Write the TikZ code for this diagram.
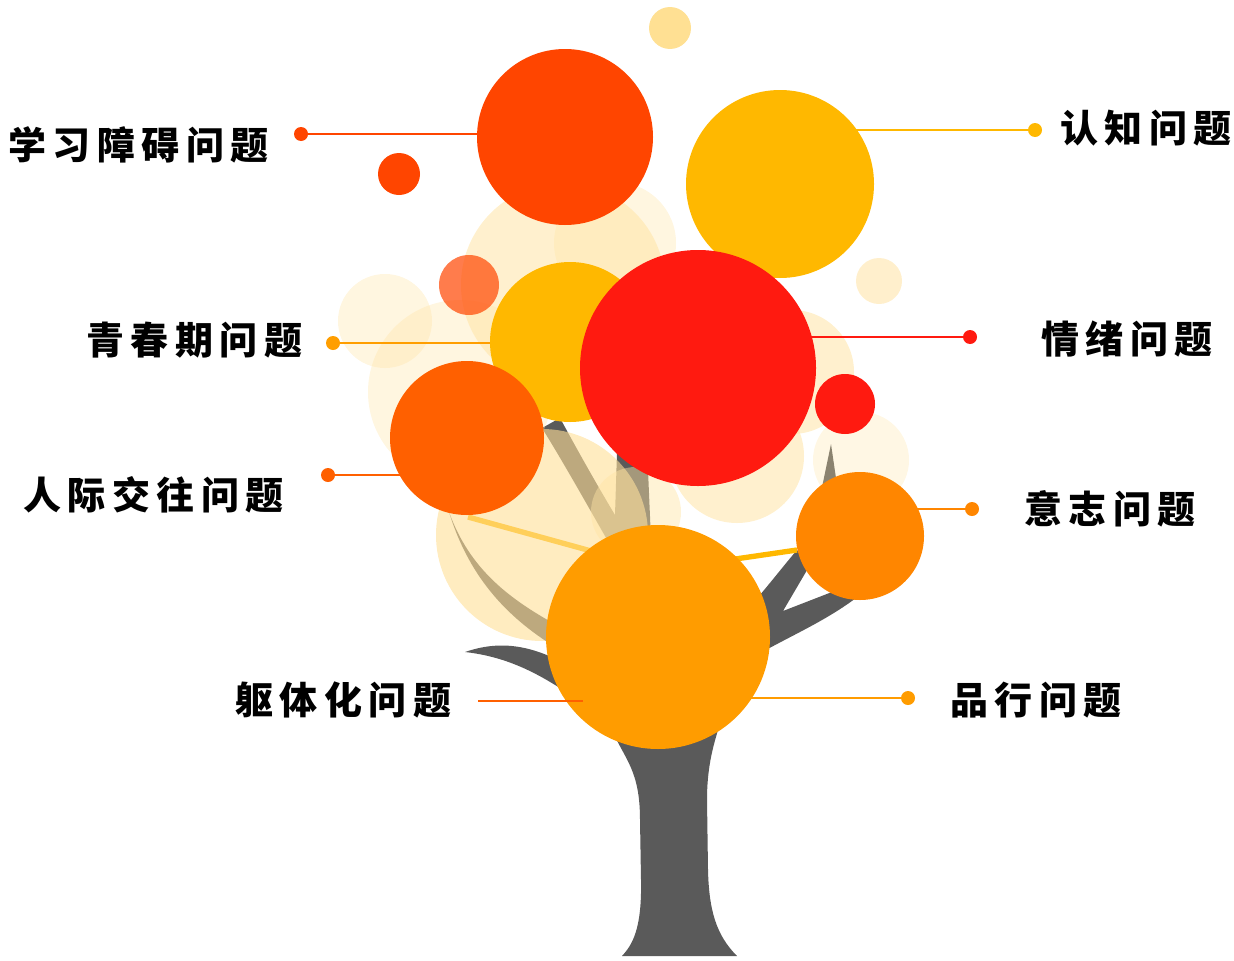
\documentclass[tikz,border=0pt]{standalone}
\usepackage{fontspec}
\newfontfamily\cjk[LetterSpace=17]{Noto Sans CJK SC}
\definecolor{colA}{HTML}{FF4500}
\definecolor{colB}{HTML}{FFB800}
\definecolor{colCline}{HTML}{FF9E00}
\definecolor{colD}{HTML}{FF1A10}
\definecolor{colE}{HTML}{FF6000}
\definecolor{colF}{HTML}{FF8600}
\definecolor{colG}{HTML}{FF9C00}
\definecolor{barkC}{HTML}{5A5A5A}
\definecolor{creamC}{HTML}{FFE4A5}
\definecolor{creamD}{HTML}{FFDF96}
\definecolor{paleY}{HTML}{FFE093}
\definecolor{paleW}{HTML}{FFEFCC}
\pgfdeclarelayer{tree}
\pgfdeclarelayer{haze}
\pgfdeclarelayer{leads}
\pgfsetlayers{tree,haze,leads,main}
\begin{document}
\begin{tikzpicture}[x=0.75pt,y=-0.75pt,
  ball/.style args={#1/#2}{circle,inner sep=0pt,minimum size=#2*1.5pt,fill=#1},
  dot/.style={circle,inner sep=0pt,minimum size=10.5pt,fill=#1},
  lead/.style={draw=#1,line width=1.5pt},
  lbl/.style={font=\cjk\bfseries\fontsize{28.5pt}{30pt}\selectfont,inner sep=0pt,anchor=west,text=black},
  cream/.style={fill=creamC,fill opacity=#1},
  bark/.style={fill=barkC}]
\useasboundingbox (0,0) rectangle (1234,960);

% ---------- the tree: trunk and branches ----------
\begin{pgfonlayer}{tree}
  % trunk
  \fill[bark] (612,730) .. controls (625,760) and (640,770) .. (640,820)
    -- (641,880) .. controls (642,930) and (632,945) .. (622,956)
    -- (737,956) .. controls (716,935) and (709,910) .. (708,870)
    -- (707,800) .. controls (707,770) and (712,750) .. (718,730) -- cycle;
  % right fork
  \fill[bark] (740,665) .. controls (780,640) and (820,625) .. (856,598)
    -- (850,585) -- (783,611) -- (810,565) -- (797,550)
    .. controls (780,570) and (765,590) .. (745,612) -- cycle;
  % thin spike on the right
  \fill[bark] (831,444) -- (837,485) -- (821,492) -- cycle;
  % left twig
  \fill[bark] (465,652) .. controls (500,640) and (530,645) .. (566,664)
    -- (566,692) .. controls (530,668) and (500,656) .. (465,652) -- cycle;
  % curved left branch
  \fill[bark] (449,512) .. controls (470,580) and (510,620) .. (560,650)
    -- (562,628) .. controls (510,600) and (470,570) .. (449,512) -- cycle;
  % upper branches
  \fill[bark] (600,600) -- (613,550) .. controls (590,510) and (565,465) .. (542,428)
    -- (560,418) .. controls (580,455) and (600,490) .. (615,515)
    -- (617,452) -- (640,440) -- (648,470) -- (651,540) -- (660,600) -- cycle;
  % yellow twig line
  \draw[colB,line width=4pt] (468,517) -- (660,570) -- (797,550);
\end{pgfonlayer}

% ---------- soft cream foliage ----------
\begin{pgfonlayer}{haze}
  \fill[cream=0.55] (563,285) circle[radius=102];
  \fill[cream=0.35] (615,243) circle[radius=61];
  \fill[cream=0.35] (385,321) circle[radius=47];
  \fill[cream=0.35] (460,392) circle[radius=92];
  \fill[fill=creamD,fill opacity=0.6] (542,535) circle[radius=106];
  \fill[cream=0.55] (737,456) circle[radius=67];
  \fill[cream=0.55] (792,372) circle[radius=62];
  \fill[cream=0.3]  (861,460) circle[radius=48];
  \fill[cream=0.45] (636,512) circle[radius=45];
\end{pgfonlayer}

% ---------- coloured circles ----------
\fill[paleY] (670,28) circle[radius=21];
\fill[paleW] (879,281) circle[radius=23];
\fill[colA] (399,174) circle[radius=21];
\fill[colA,fill opacity=0.7] (469,285) circle[radius=30];
\node[ball=colA/88]  (A) at (565,137) {};
\node[ball=colB/94]  (B) at (780,184) {};
\node[ball=colB/80]  (C) at (570,342) {};
\node[ball=colD/118] (D) at (698,368) {};
\fill[colD] (845,404) circle[radius=30];
\node[ball=colE/77]  (E) at (467,438) {};
\node[ball=colF/64]  (F) at (860,536) {};
\node[ball=colG/112] (G) at (658,637) {};

% ---------- label dots and leader lines ----------
\node[dot=colA]     (dA) at (301,134) {};
\node[dot=colB]     (dB) at (1035,130) {};
\node[dot=colCline] (dC) at (333,343) {};
\node[dot=colD]     (dD) at (970,337) {};
\node[dot=colE]     (dE) at (328,475) {};
\node[dot=colF]     (dF) at (972,509) {};
\node[dot=colG]     (dI) at (908,698) {};
\begin{pgfonlayer}{leads}
  \draw[lead=colA]     (dA) -- (dA -| A.center);
  \draw[lead=colB]     (dB) -- (dB -| B.center);
  \draw[lead=colCline] (dC) -- (dC -| C.center);
  \draw[lead=colD]     (dD) -- (dD -| D.center);
  \draw[lead=colE]     (dE) -- (dE -| E.center);
  \draw[lead=colF]     (dF) -- (dF -| F.center);
  \draw[lead=colG]     (dI) -- (dI -| G.center);
\end{pgfonlayer}
\coordinate (qa) at (478,701);
\coordinate (qb) at (583,701);
\draw[lead=colE] (qa) -- (qb);

% ---------- labels ----------
\node[lbl] (tA) at (8,144.5)    {学习障碍问题};
\node[lbl] (tB) at (1060,128)   {认知问题};
\node[lbl] (tC) at (86,340)     {青春期问题};
\node[lbl] (tD) at (1041,339.5) {情绪问题};
\node[lbl] (tE) at (23,494.5)   {人际交往问题};
\node[lbl] (tF) at (1024,508.5) {意志问题};
\node[lbl] (tH) at (235,700)    {躯体化问题};
\node[lbl] (tI) at (950,700)    {品行问题};
\end{tikzpicture}
\end{document}
